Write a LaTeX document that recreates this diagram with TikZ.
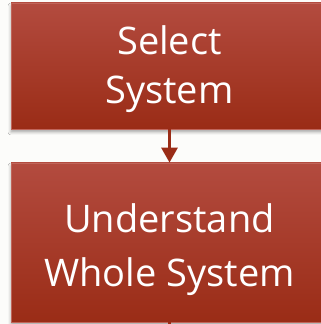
\documentclass[tikz,border=0pt]{standalone}
\usepackage{fontspec}
\setmainfont{Open Sans}
\usetikzlibrary{shadows.blur,arrows.meta}
\definecolor{bg}{HTML}{FCFCFA}
\definecolor{boxtop}{HTML}{B34B3F}
\definecolor{boxbot}{HTML}{9A2C16}
\definecolor{boxedge}{HTML}{C0655A}
\definecolor{arrowc}{HTML}{9A2C16}
\tikzset{
  stepbox/.style={rectangle, top color=boxtop, bottom color=boxbot, draw=boxedge, line width=0.8pt,
    inner sep=0pt,
    blur shadow={shadow xshift=0pt, shadow yshift=-3pt, shadow blur radius=3pt, shadow opacity=35}},
  steptext/.style={text=white, align=center, inner sep=0pt},
  link/.style={draw=arrowc, line width=3pt, -{Triangle[width=16pt,length=15pt]}},
  plainlink/.style={draw=arrowc, line width=3pt}
}
\begin{document}
\begin{tikzpicture}[x=1pt,y=1pt]
\useasboundingbox (0,0) rectangle (321,324);
\fill[bg] (0,0) rectangle (321,324);
\node[stepbox, minimum width=317pt, minimum height=126pt] (s1) at (169.5,258) {};
\node[steptext, font=\fontsize{38}{49}\selectfont] (t1) at (169.5,255) {Select\\System};
\node[stepbox, minimum width=317pt, minimum height=159pt] (s2) at (169.5,81.5) {};
\node[steptext, font=\fontsize{38}{54}\selectfont] (t2) at (169.5,74) {Understand\\Whole System};
\coordinate (below) at (169.5,-6);
\draw[link] (s1.south) -- (s2.north);
\draw[plainlink] (s2.south) -- (below);
\end{tikzpicture}
\end{document}
